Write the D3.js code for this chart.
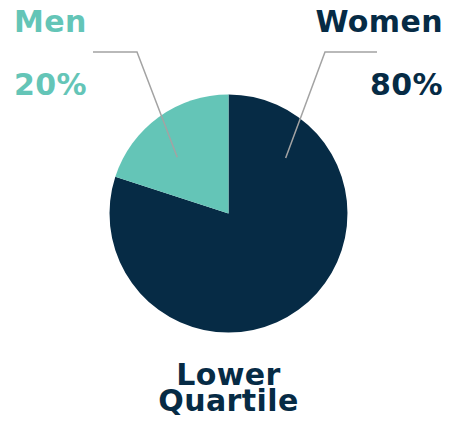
<!DOCTYPE html>
<html>
<head>
<meta charset="utf-8">
<script src="https://cdn.jsdelivr.net/npm/d3@7"></script>
<style>
  body { margin: 0; background: #fff; }
  text { font-family: "DejaVu Sans", sans-serif; font-weight: bold; font-size: 30px; letter-spacing: 0.4px; }
</style>
</head>
<body>
<svg width="450" height="425"></svg>
<script>
let categories = ["Women", "Men"];
let values = [80, 20];
let colors = ["#062b45", "#64c5b7"];
let caption = ["Lower", "Quartile"];

let svg = d3.select("svg"),
    cx = 228.5, cy = 213.5, radius = 119;

let pie = d3.pie().sort(null).value((d) => d.value);
let arc = d3.arc().innerRadius(0).outerRadius(radius);

let data = categories.map((c, i) => ({name: c, value: values[i], color: colors[i]}));
let arcs = pie(data);

let g = svg.append("g")
    .attr("transform", "translate(" + cx + "," + cy + ")");

g.selectAll(".slice")
  .data(arcs)
  .enter().append("path")
    .attr("class", "slice")
    .attr("d", arc)
    .style("fill", (d) => d.data.color);

// leader lines: anchor inside slice (angle, radius fraction), elbow, end of horizontal
let leaders = [
  {name: "Women", angle: 45.8, r: 0.67, elbowX: 325, endX: 377, y: 52},
  {name: "Men", angle: -42.3, r: 0.64, elbowX: 137, endX: 93, y: 52}
];

let line = d3.line();
svg.selectAll(".leader")
  .data(leaders)
  .enter().append("path")
    .attr("class", "leader")
    .attr("d", (d) => {
      let p = d3.pointRadial(d.angle * Math.PI / 180, d.r * radius);
      return line([[cx + p[0], cy + p[1]], [d.elbowX, d.y], [d.endX, d.y]]);
    })
    .style("fill", "none")
    .style("stroke", "#a3a3a3")
    .style("stroke-width", 1.5);

// labels
let labelPos = {
  Women: {x: 443, anchor: "end"},
  Men: {x: 14, anchor: "start"}
};

arcs.forEach((d) => {
  let pos = labelPos[d.data.name];
  svg.append("text")
      .attr("x", pos.x)
      .attr("y", 32)
      .attr("text-anchor", pos.anchor)
      .style("fill", d.data.color)
      .text(d.data.name);
  svg.append("text")
      .attr("x", pos.x)
      .attr("y", 95)
      .attr("text-anchor", pos.anchor)
      .style("fill", d.data.color)
      .text(d.data.value + "%");
});

// two-line caption under the pie, as one text block
svg.append("text")
    .attr("class", "caption")
    .attr("text-anchor", "middle")
    .style("fill", colors[0])
  .selectAll("tspan")
  .data(caption)
  .enter().append("tspan")
    .attr("x", cx)
    .attr("y", (d, i) => 385 + i * 26)
    .text((d) => d);
</script>
</body>
</html>
